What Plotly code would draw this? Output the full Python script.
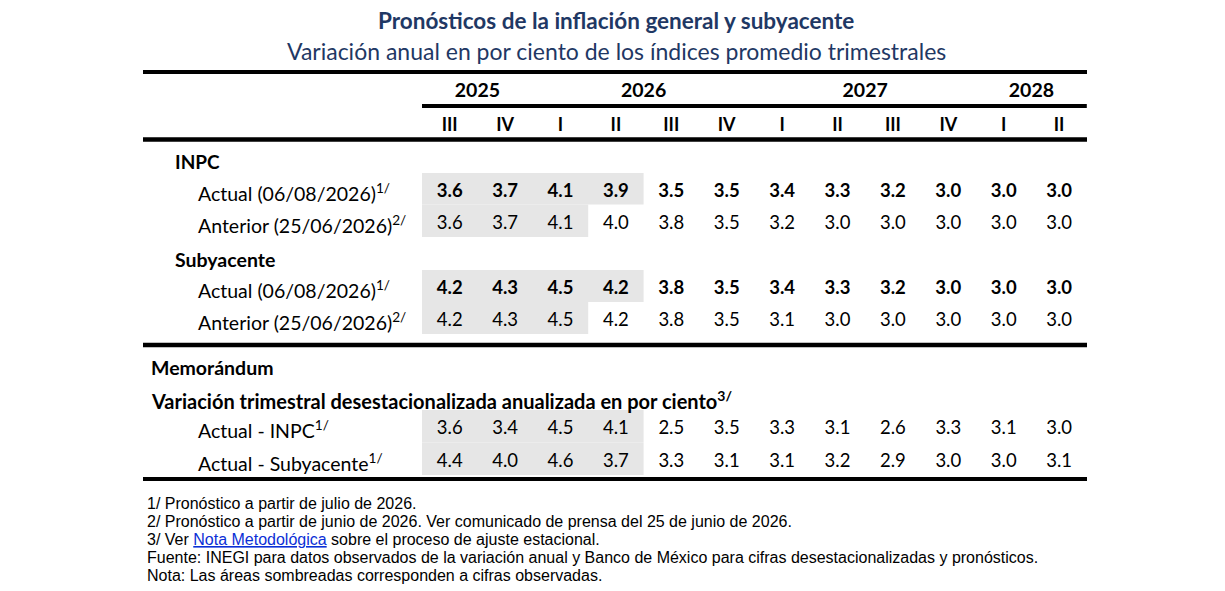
import plotly.graph_objects as go

# ---------------- data ----------------
years = ["2025", "2025", "2026", "2026", "2026", "2026",
         "2027", "2027", "2027", "2027", "2028", "2028"]
quarters = ["III", "IV", "I", "II", "III", "IV", "I", "II", "III", "IV", "I", "II"]

inpc_actual = [3.6, 3.7, 4.1, 3.9, 3.5, 3.5, 3.4, 3.3, 3.2, 3.0, 3.0, 3.0]
inpc_anterior = [3.6, 3.7, 4.1, 4.0, 3.8, 3.5, 3.2, 3.0, 3.0, 3.0, 3.0, 3.0]
sub_actual = [4.2, 4.3, 4.5, 4.2, 3.8, 3.5, 3.4, 3.3, 3.2, 3.0, 3.0, 3.0]
sub_anterior = [4.2, 4.3, 4.5, 4.2, 3.8, 3.5, 3.1, 3.0, 3.0, 3.0, 3.0, 3.0]
memo_inpc = [3.6, 3.4, 4.5, 4.1, 2.5, 3.5, 3.3, 3.1, 2.6, 3.3, 3.1, 3.0]
memo_sub = [4.4, 4.0, 4.6, 3.7, 3.3, 3.1, 3.1, 3.2, 2.9, 3.0, 3.0, 3.1]

# number of observed (shaded) quarters per row
observed = {"inpc_actual": 4, "inpc_anterior": 3, "sub_actual": 4,
            "sub_anterior": 3, "memo_inpc": 4, "memo_sub": 4}

row_labels = {
    "inpc_actual": "Actual (06/08/2026)<sup>1/</sup>",
    "inpc_anterior": "Anterior (25/06/2026)<sup>2/</sup>",
    "sub_actual": "Actual (06/08/2026)<sup>1/</sup>",
    "sub_anterior": "Anterior (25/06/2026)<sup>2/</sup>",
    "memo_inpc": "Actual - INPC<sup>1/</sup>",
    "memo_sub": "Actual - Subyacente<sup>1/</sup>",
}
group_labels = ["INPC", "Subyacente", "Memorándum",
                "Variación trimestral desestacionalizada anualizada en por ciento<sup>3/</sup>"]

title = "Pronósticos de la inflación general y subyacente"
subtitle = "Variación anual en por ciento de los índices promedio trimestrales"

footnotes = [
    "1/ Pronóstico a partir de julio de 2026.",
    "2/ Pronóstico a partir de junio de 2026. Ver comunicado de prensa del 25 de junio de 2026.",
    "3/ Ver <span style='color:#0b2fd6;text-decoration:underline'>Nota Metodológica</span> sobre el proceso de ajuste estacional.",
    "Fuente: INEGI para datos observados de la variación anual y Banco de México para cifras desestacionalizadas y pronósticos.",
    "Nota: Las áreas sombreadas corresponden a cifras observadas.",
]

series = {"inpc_actual": inpc_actual, "inpc_anterior": inpc_anterior,
          "sub_actual": sub_actual, "sub_anterior": sub_anterior,
          "memo_inpc": memo_inpc, "memo_sub": memo_sub}
bold_rows = {"inpc_actual", "sub_actual"}

# ---------------- layout constants ----------------
W, H = 1225, 591
OFF = 8                          # page body margin
COL0, CW = 449.7, 55.4          # page-pixel centre of first column, column width
LEFT, RIGHT = 143, 1087
FONT = "Lato"
NAVY = "#1f3864"
SHADE = "#e6e6e6"

def px(x):
    """page x pixel -> paper fraction"""
    return (x - OFF) / W

row_y = {"inpc_actual": 192, "inpc_anterior": 224, "sub_actual": 289,
         "sub_anterior": 321, "memo_inpc": 429, "memo_sub": 462}
row_band = {"inpc_actual": (173, 204.5), "inpc_anterior": (204.5, 237),
            "sub_actual": (270, 302), "sub_anterior": (302, 334),
            "memo_inpc": (410, 442.5), "memo_sub": (442.5, 475)}
group_y = [161, 259, 367, 400]
group_x = [173, 173, 149, 149]
group_size = [19, 19.5, 19.5, 20]
label_x = 196
year_y, quarter_y = 91, 126

ncol = len(quarters)
fig = go.Figure()

shapes = []
for key, n in observed.items():
    y0, y1 = row_band[key]
    shapes.append(dict(type="rect", xref="x", yref="y", x0=-0.5, x1=n - 0.5,
                       y0=y0, y1=y1, fillcolor=SHADE, line=dict(width=0),
                       layer="below"))

def hline(y, x0, x1, xref, w):
    shapes.append(dict(type="line", xref=xref, yref="y", x0=x0, x1=x1,
                       y0=y, y1=y, line=dict(color="black", width=w)))

hline(72, px(LEFT), px(RIGHT), "paper", 4)
hline(106, -0.5, ncol - 0.5, "x", 4)
hline(139.5, px(LEFT), px(RIGHT), "paper", 4.5)
hline(345, px(LEFT), px(RIGHT), "paper", 4.5)
hline(479, px(LEFT), px(RIGHT), "paper", 4)

for key, vals in series.items():
    bold = key in bold_rows
    fig.add_trace(go.Scatter(
        x=list(range(ncol)), y=[row_y[key]] * ncol, mode="text",
        text=[(f"<b>{v:.1f}</b>" if bold else f"{v:.1f}") for v in vals],
        textposition="middle center",
        textfont=dict(family=FONT, size=18.5, color="black"),
        hoverinfo="skip", showlegend=False))

fig.add_trace(go.Scatter(
    x=list(range(ncol)), y=[quarter_y] * ncol, mode="text",
    text=[f"<b>{q}</b>" for q in quarters], textposition="middle center",
    textfont=dict(family=FONT, size=18, color="black"),
    hoverinfo="skip", showlegend=False))

uniq_years = []
for y in years:
    if y not in uniq_years:
        uniq_years.append(y)
year_centres = [sum(i for i, yy in enumerate(years) if yy == y) /
                years.count(y) for y in uniq_years]
fig.add_trace(go.Scatter(
    x=year_centres, y=[year_y + 1] * len(uniq_years), mode="text",
    text=[f"<b>{y}</b>" for y in uniq_years], textposition="middle center",
    textfont=dict(family=FONT, size=19.5, color="black"),
    hoverinfo="skip", showlegend=False))

annotations = []
annotations.append(dict(text=f"<b>{title}</b>", xref="paper", yref="y",
                        x=px(616), y=20, showarrow=False, xanchor="center",
                        yanchor="middle",
                        font=dict(family=FONT, size=22.5, color=NAVY)))
annotations.append(dict(text=subtitle, xref="paper", yref="y",
                        x=px(616), y=51, showarrow=False, xanchor="center",
                        yanchor="middle",
                        font=dict(family=FONT, size=23, color=NAVY)))
for txt, gx, gy, gs in zip(group_labels, group_x, group_y, group_size):
    annotations.append(dict(text=f"<b>{txt}</b>", xref="paper", yref="y",
                            x=px(gx), y=gy, showarrow=False, xanchor="left",
                            yanchor="middle",
                            font=dict(family=FONT, size=gs, color="black")))
for key, txt in row_labels.items():
    annotations.append(dict(text=txt, xref="paper", yref="y",
                            x=px(label_x), y=row_y[key], showarrow=False,
                            xanchor="left", yanchor="middle",
                            font=dict(family=FONT, size=19.5, color="black")))
for i, txt in enumerate(footnotes):
    annotations.append(dict(text=txt, xref="paper", yref="y",
                            x=px(145), y=503 + 18 * i, showarrow=False,
                            xanchor="left", yanchor="middle",
                            font=dict(family="Liberation Sans", size=16,
                                      color="black")))

fig.update_layout(
    width=W, height=H, margin=dict(l=0, r=0, t=0, b=0),
    paper_bgcolor="white", plot_bgcolor="white",
    xaxis=dict(range=[(OFF - COL0) / CW, (W + OFF - COL0) / CW],
               visible=False, fixedrange=True),
    yaxis=dict(range=[H + OFF, OFF], visible=False, fixedrange=True),
    shapes=shapes, annotations=annotations,
)

fig.write_html("out.html")
